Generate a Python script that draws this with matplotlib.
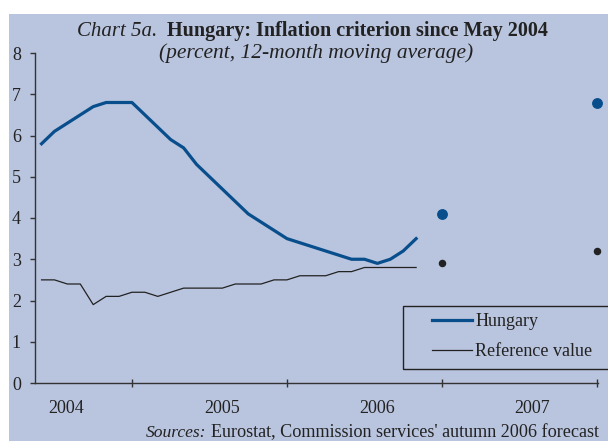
import matplotlib
matplotlib.use("Agg")
import matplotlib.pyplot as plt
from matplotlib.patches import Rectangle

# --- style ---
PANEL = "#B9C4DE"
BLUE = "#084E8C"
INK = "#222222"
AXIS = "#333333"
W, H = 608, 441

plt.rcParams["font.family"] = ["Liberation Serif", "DejaVu Serif"]

# --- data: month index, 0 = May 2004 ---
months = list(range(30))
hungary = [5.8, 6.1, 6.3, 6.5, 6.7, 6.8, 6.8, 6.8, 6.5, 6.2,
           5.9, 5.7, 5.3, 5.0, 4.7, 4.4, 4.1, 3.9, 3.7, 3.5,
           3.4, 3.3, 3.2, 3.1, 3.0, 3.0, 2.9, 3.0, 3.2, 3.5]
reference = [2.5, 2.5, 2.4, 2.4, 1.9, 2.1, 2.1, 2.2, 2.2, 2.1,
             2.2, 2.3, 2.3, 2.3, 2.3, 2.4, 2.4, 2.4, 2.5, 2.5,
             2.6, 2.6, 2.6, 2.7, 2.7, 2.8, 2.8, 2.8, 2.8, 2.8]
# annual forecasts, placed at Dec 2006 and Dec 2007
forecast_months = [31, 43]
hungary_fc = [4.1, 6.8]
reference_fc = [2.9, 3.2]

year_labels = ["2004", "2005", "2006", "2007"]
year_ticks = [7, 19, 31, 43]
year_label_pos = [1.9, 14.0, 26.0, 38.0]


def fx(px):
    return px / W


def fy(py):
    return 1 - py / H


fig = plt.figure(figsize=(W / 100, H / 100), dpi=100, facecolor="white")
fig.patches.append(Rectangle((fx(9), 0), 1, fy(14), transform=fig.transFigure,
                             facecolor=PANEL, edgecolor="none", zorder=-10))

ax = fig.add_axes([fx(34.7), fy(383), fx(597.6 - 34.7), (383 - 53) / H])
ax.set_facecolor("none")
ax.set_zorder(2)

ax.plot(months, hungary, color=BLUE, lw=2.3, label="Hungary")
ax.plot(months, reference, color=INK, lw=0.9, label="Reference value")
ax.plot(forecast_months, hungary_fc, "o", color=BLUE, ms=6.8, clip_on=False)
ax.plot(forecast_months, reference_fc, "o", color=INK, ms=4.4, clip_on=False)

ax.set_xlim(-0.53, 43.05)
ax.set_ylim(0, 8)
for side in ("top", "right"):
    ax.spines[side].set_visible(False)
for side in ("left", "bottom"):
    ax.spines[side].set_color(AXIS)
    ax.spines[side].set_linewidth(1.0)

ax.set_yticks(range(9))
ax.tick_params(axis="y", direction="out", length=3.4, width=1, color=AXIS,
               labelcolor=INK, labelsize=13, pad=6.5)
ax.set_xticks(year_ticks)
ax.set_xticklabels([])
ax.set_xticks(year_label_pos, minor=True)
ax.set_xticklabels(year_labels, minor=True)
ax.tick_params(axis="x", which="major", direction="inout", length=6, width=1, color=AXIS)
ax.tick_params(axis="x", which="minor", length=0, labelsize=13, labelcolor=INK, pad=12.5)

# legend with a frame running off the right edge
fig.patches.append(Rectangle((fx(403), fy(369)), fx(300), (369 - 306) / H,
                             transform=fig.transFigure, facecolor="none",
                             edgecolor=INK, lw=1.0, zorder=3))
fig.legend(*ax.get_legend_handles_labels(), loc="upper left",
           bbox_to_anchor=(fx(432), fy(313)), bbox_transform=fig.transFigure,
           frameon=False, fontsize=13, borderpad=0, borderaxespad=0,
           handlelength=2.2, handletextpad=0.2, labelspacing=0.72,
           labelcolor=INK)

# titles
fig.text(fx(77), fy(36), "Chart 5a.", style="italic", fontsize=15,
         color=INK, va="baseline", ha="left")
fig.text(fx(167), fy(36), "Hungary: Inflation criterion since May 2004",
         weight="bold", fontsize=14.5, color=INK, va="baseline", ha="left")
fig.text(fx(316), fy(53), "(percent, 12-month moving average)", style="italic",
         fontsize=15.5, color=INK, va="center", ha="center")

# source line
fig.text(fx(146), fy(433), "Sources:", style="italic", fontsize=12.6,
         color=INK, va="center", ha="left")
fig.text(fx(211), fy(433), "Eurostat, Commission services' autumn 2006 forecast",
         fontsize=13.1, color=INK, va="center", ha="left")

fig.savefig("out.png", dpi=100, facecolor="white")
